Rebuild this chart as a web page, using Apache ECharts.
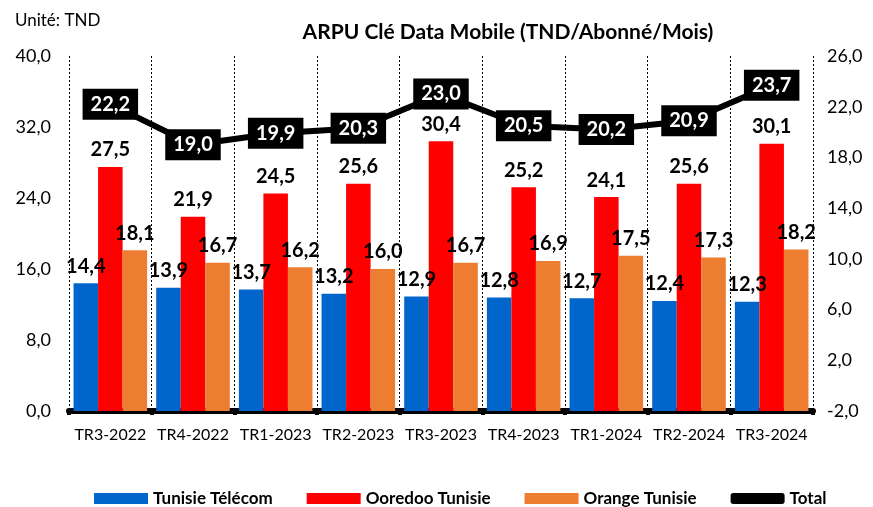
<!DOCTYPE html>
<html><head><meta charset="utf-8">
<script src="https://cdn.jsdelivr.net/npm/echarts@6/dist/echarts.min.js"></script>
<style>html,body{margin:0;padding:0;background:#fff}#c{width:873px;height:507px}</style>
</head><body><div id="c"></div>
<script>
const categories = ['TR3-2022','TR4-2022','TR1-2023','TR2-2023','TR3-2023','TR4-2023','TR1-2024','TR2-2024','TR3-2024'];
const tunisieTelecom = [14.4,13.9,13.7,13.2,12.9,12.8,12.7,12.4,12.3];
const ooredoo = [27.5,21.9,24.5,25.6,30.4,25.2,24.1,25.6,30.1];
const orange = [18.1,16.7,16.2,16.0,16.7,16.9,17.5,17.3,18.2];
const total = [22.2,19.0,19.9,20.3,23.0,20.5,20.2,20.9,23.7];
const seriesNames = ['Tunisie Télécom','Ooredoo Tunisie','Orange Tunisie','Total'];

const FONT = 'Lato';
const fmt = v => (typeof v === 'number' ? v : v.value).toFixed(1).replace('.', ',');
const barLabel = {show:true, position:'top', distance:7, fontFamily:FONT, fontWeight:'bold', fontSize:20, color:'#000', formatter:p=>fmt(p.value)};

const chart = echarts.init(document.getElementById('c'));
chart.setOption({
  animation:false,
  textStyle:{fontFamily:FONT},
  title:[
    {text:'ARPU Clé Data Mobile (TND/Abonné/Mois)', left:503, textAlign:'center', top:17,
     textStyle:{fontFamily:FONT, fontWeight:'bold', fontSize:21, color:'#000'}},
    {text:'Unité: TND', left:10, top:7, textStyle:{fontFamily:FONT, fontWeight:'normal', fontSize:17, color:'#000'}}
  ],
  legend:{
    bottom:-5, left:89, itemWidth:54, itemHeight:11, itemGap:34,
    textStyle:{fontFamily:FONT, fontWeight:'bold', fontSize:17, color:'#000'},
    data:[
      {name:seriesNames[0], icon:'rect'},
      {name:seriesNames[1], icon:'rect'},
      {name:seriesNames[2], icon:'rect'},
      {name:seriesNames[3], icon:'roundRect', itemStyle:{color:'#000'}}
    ]
  },
  grid:{left:69, right:60, top:56, bottom:96, containLabel:false},
  xAxis:{
    type:'category', data:categories, boundaryGap:true,
    axisLine:{lineStyle:{color:'#000', width:6}},
    axisTick:{show:true, interval:0, length:4, lineStyle:{color:'#000', width:4}},
    axisLabel:{interval:0, fontFamily:FONT, fontSize:16, color:'#000', margin:16},
    splitLine:{show:true, interval:0, lineStyle:{color:'#000', type:[2,2], width:1}}
  },
  yAxis:[
    {type:'value', min:0, max:40, interval:8, position:'left',
     axisLine:{show:false}, axisTick:{show:false}, splitLine:{show:false},
     axisLabel:{fontFamily:FONT, fontSize:18, color:'#000', margin:18, formatter:v=>v.toFixed(1).replace('.',',')}},
    {type:'value', min:-2, max:26, interval:4, position:'right',
     axisLine:{show:false}, axisTick:{show:false}, splitLine:{show:false},
     axisLabel:{fontFamily:FONT, fontSize:18, color:'#000', margin:14, formatter:v=>v.toFixed(1).replace('.',',')}}
  ],
  series:[
    {name:seriesNames[0], type:'bar', data:tunisieTelecom, barGap:'0%', barCategoryGap:'11%', itemStyle:{color:'#0066CC'}, label:barLabel},
    {name:seriesNames[1], type:'bar', data:ooredoo, barGap:'0%', barCategoryGap:'11%', itemStyle:{color:'#FF0000'}, label:barLabel},
    {name:seriesNames[2], type:'bar', data:orange, barGap:'0%', barCategoryGap:'11%', itemStyle:{color:'#ED7D31'}, label:barLabel},
    {name:seriesNames[3], type:'line', yAxisIndex:1, data:total, symbol:'circle', symbolSize:1,
     lineStyle:{color:'#000', width:6}, itemStyle:{color:'#000'}, z:5,
     label:{show:true, position:'inside', backgroundColor:'#000', color:'#fff', fontFamily:FONT, fontWeight:'bold', fontSize:20,
       padding:[6,8,5,8], formatter:p=>fmt(p.value)}}
  ]
});
</script></body></html>
